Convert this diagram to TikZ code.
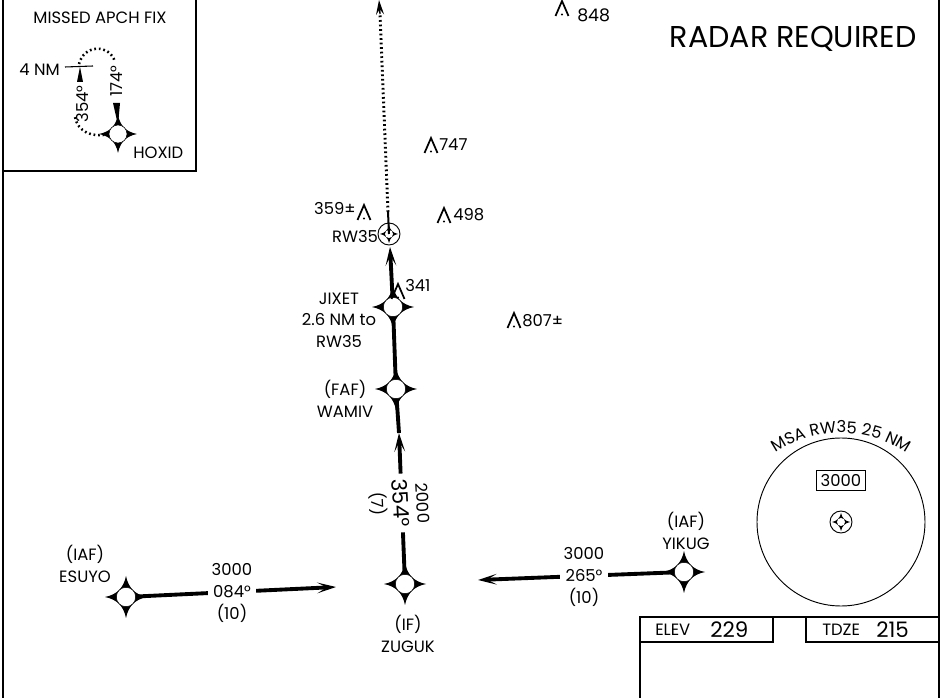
\documentclass[tikz,border=0pt]{standalone}
\usepackage{fontspec}
\usepackage{amsmath}
\setmainfont{Poppins}
\usetikzlibrary{arrows.meta,decorations.text}
\tikzset{
  lbl/.style={inner sep=0pt,align=center,font=\fontsize{12.3}{16.2}\selectfont},
  gaplbl/.style={lbl,fill=white,inner xsep=3pt,inner ysep=0pt},
  bigval/.style={lbl,font=\fontsize{16}{18}\selectfont},
  frame/.style={line width=1.6pt},
  thinframe/.style={line width=0.9pt},
  track/.style={line width=2.9pt},
  tip/.style={-{Stealth[length=14pt,width=8pt,inset=7pt]}},
  fixpt/.style={circle,fill=white,draw=black,line width=0.4pt,inner sep=0pt,minimum size=14.5pt},
  smallpt/.style={circle,draw=black,line width=0.7pt,inner sep=0pt,minimum size=16.5pt},
  fixmark/.pic={
    \fill (-21,0) .. controls (-9,-2.5) and (-2.5,-9) .. (0,-21)
      .. controls (2.5,-9) and (9,-2.5) .. (21,0)
      .. controls (9,2.5) and (2.5,9) .. (0,21)
      .. controls (-2.5,9) and (-9,2.5) .. cycle;
  },
  innermark/.pic={
    \fill (-9,0) .. controls (-4,-1) and (-1,-4) .. (0,-9)
      .. controls (1,-4) and (4,-1) .. (9,0)
      .. controls (4,1) and (1,4) .. (0,9)
      .. controls (-1,4) and (-4,1) .. cycle;
    \fill[white] (0,0) circle (4);
  },
  obst/.pic={
    \draw[line width=1.3pt] (-6.5,7) -- (0,-8) -- (6.5,7);
    \fill (0,5.5) circle (1.2);
  }
}
\begin{document}
\begin{tikzpicture}[x=0.75pt,y=-0.75pt]
\useasboundingbox (0,0) rectangle (947,698);

\draw[frame] (3,0) -- (3,698);
\draw[frame] (939,0) -- (939,698);
\draw[thinframe] (196,0) -- (196,171) -- (3,171);
\draw[frame] (640,698) -- (640,617) -- (939,617);
\draw[thinframe] (640,642) -- (773,642) -- (773,617);
\draw[thinframe] (806,617) -- (806,642) -- (939,642);

\coordinate (zugukarrow) at (399,433);
\coordinate (rwarrow) at (390,247);
\coordinate (esuyoend) at (336,587);
\coordinate (yikugend) at (478,580);
\coordinate (rwdots) at (388,212);
\coordinate (topend) at (379,0);
\coordinate (dotsend) at (380,14);

\foreach \name/\x/\y in {zuguk/405/584,wamiv/396/389,jixet/393/307,yikug/684/572,esuyo/126/597} {
  \coordinate (\name) at (\x,\y);
}
\node[smallpt] (rw) at (389,234) {};
\node[smallpt] (msaref) at (841,522) {};
\node[inner sep=0pt] (hoxidpt) at (118,134) {};

\draw[track,tip] (zuguk) -- (zugukarrow);
\draw[track] (zugukarrow) -- (wamiv);
\draw[track] (wamiv) -- (jixet);
\draw[track,tip] (jixet) -- (rwarrow);
\draw[line width=2.2pt,dash pattern=on 1.3pt off 2.1pt] (rwdots) -- (dotsend);
\draw[line width=1pt,-{Stealth[length=11pt,width=6pt,inset=4pt]}] (dotsend) -- (topend);
\draw[track,tip] (esuyo) -- (esuyoend);
\draw[track,tip] (yikug) -- (yikugend);

\foreach \name in {zuguk,wamiv,jixet,yikug,esuyo} {
  \pic at (\name) {fixmark};
  \node[fixpt] at (\name) {};
}
\pic at (rw) {innermark};
\pic at (msaref) {innermark};
\draw[line width=1.5pt] (rw.center) -- (rwdots);
\pic[scale=0.9] at (hoxidpt) {fixmark};
\node[fixpt,minimum size=13.5pt] (hoxid) at (hoxidpt) {};

\node[lbl] (esuyolbl) at (85,564) {(IAF)\\ESUYO};
\node[lbl] (yikuglbl) at (686,531) {(IAF)\\YIKUG};
\node[lbl] (zuguklbl) at (408,634) {(IF)\\ZUGUK};
\node[lbl] (wamivlbl) at (345,399) {(FAF)\\WAMIV};
\node[lbl] (jixetlbl) at (339,320) {JIXET\\2.6 NM to\\RW35};
\node[lbl] (rwlbl) at (355,237) {RW35};
\node[gaplbl] (esuyoval) at (232,593) {3000\\084°\\(10)};
\node[gaplbl] (yikugval) at (584,577) {3000\\265°\\(10)};
\node[bigval,fill=white,inner xsep=4pt,inner ysep=2pt,rotate=-87] (courselbl) at (401,503) {354°};
\node[lbl,rotate=-87] (altlbl) at (423,503) {2000};
\node[lbl,rotate=-87] (distlbl) at (378,504) {(7)};

\foreach \name/\x/\y in {oa/562/9,ob/431/146,oc/444/216,od/514/321,oe/364/213,of/398/292} {
  \pic at (\x,\y) {obst};
  \coordinate (\name) at (\x,\y);
}
\node[bigval,anchor=west,font=\fontsize{13}{15}\selectfont] (val848) at (577,15) {848};
\node[lbl,anchor=west] (val747) at (439,145) {747};
\node[lbl,anchor=west] (val498) at (453,215) {498};
\node[lbl,anchor=west] (val807) at (522,321) {807±};
\node[lbl,anchor=east] (val359) at (356,209) {359±};
\node[lbl,anchor=west] (val341) at (405,286) {341};

\node[lbl,font=\fontsize{22.6}{26}\selectfont,anchor=east] (radar) at (917,39) {RADAR REQUIRED};

\node[lbl] (missedlbl) at (100,18) {MISSED APCH FIX};
\node[lbl,anchor=east] (nmlbl) at (60,70) {4 NM};
\coordinate (tickl) at (65,67);
\coordinate (tickr) at (93,66);
\draw[line width=0.8pt] (tickl) -- (tickr);
\draw[line width=1.9pt,dash pattern=on 1.3pt off 2.1pt] (hoxid.west)
  .. controls (92,138) and (78,132) .. (75,117);
\draw[line width=1.9pt,dash pattern=on 1.3pt off 2.1pt] (79,64)
  .. controls (84,44) and (110,44) .. (115,62);
\fill (80,67) -- (77,82) -- (83,82) -- cycle;
\fill (113,103) -- (120,103) -- (118,125) -- cycle;
\node[lbl,rotate=90] (inbound) at (82,104) {354°};
\node[lbl,rotate=90] (outbound) at (117,81) {174°};
\node[lbl,anchor=west] (hoxidlbl) at (133,153) {HOXID};

\draw[line width=0.7pt] (841,522) circle (84);
\node[draw,line width=0.6pt,minimum width=37pt,minimum height=15pt,inner sep=0pt,lbl] (msaalt) at (841,480) {3000};
\path[decorate,decoration={text along path,text align=center,
  text={|\fontsize{12.3}{14}\selectfont|MSA RW35 25 NM}}]
  (841,550) ++(130:87.75pt) arc[start angle=130,end angle=50,radius=87.75pt];

\node[lbl,anchor=west] (elevlbl) at (655,630) {ELEV};
\node[bigval,anchor=west] (elevval) at (710,630) {229};
\node[lbl,anchor=west] (tdzelbl) at (822,630) {TDZE};
\node[bigval,anchor=west] (tdzeval) at (876,630) {215};
\end{tikzpicture}
\end{document}
